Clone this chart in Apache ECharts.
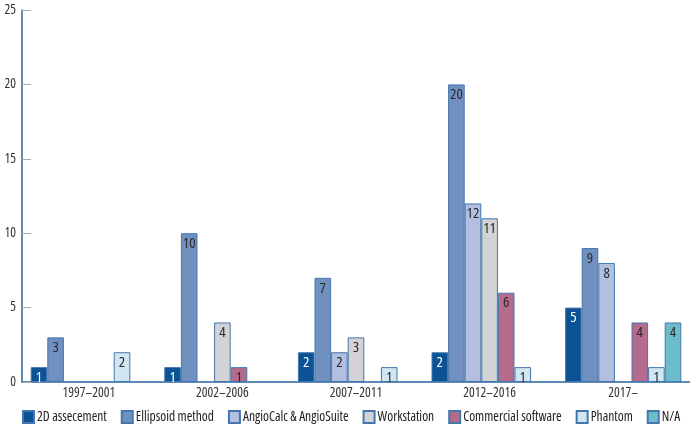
<!DOCTYPE html>
<html><head><meta charset="utf-8">
<script src="https://cdn.jsdelivr.net/npm/echarts@6/dist/echarts.min.js"></script>
<style>html,body{margin:0;padding:0;background:#fff}#c{width:690px;height:425px}</style>
</head><body><div id="c"></div>
<script>
const categories = ['1997–2001','2002–2006','2007–2011','2012–2016','2017–'];
const seriesNames = ['2D assecement','Ellipsoid method','AngioCalc & AngioSuite','Workstation','Commercial software','Phantom','N/A'];
const s2D = [1,1,2,2,5];
const sEllipsoid = [3,10,7,20,9];
const sAngio = [null,null,2,12,8];
const sWorkstation = [null,4,3,11,null];
const sCommercial = [null,1,null,6,4];
const sPhantom = [2,null,1,1,1];
const sNA = [null,null,null,null,4];
const yTicks = [0,5,10,15,20,25];

const values = [s2D,sEllipsoid,sAngio,sWorkstation,sCommercial,sPhantom,sNA];
const colors = ['#0b5394','#7090c0','#b2bfe0','#d3d3d6','#b56b8c','#d0e6f0','#6cbccb'];
const labelColors = ['#ffffff','#2a2a2a','#2a2a2a','#2a2a2a','#2a2a2a','#2a2a2a','#2a2a2a'];
const FONT = '"Open Sans",sans-serif';
const TXT = {fontFamily:FONT,fontStyle:'normal',fontWeight:'condensed'};

const chart = echarts.init(document.getElementById('c'), null, {renderer:'canvas'});
chart.setOption({
  animation:false,
  grid:{left:22,right:0,top:10,bottom:43,containLabel:false},
  legend:{
    top:410,left:22,width:900,padding:0,itemGap:14,itemWidth:11,itemHeight:12,
    icon:'rect',
    textStyle:Object.assign({fontSize:13.5,color:'#222',padding:[0,0,0,-2]},TXT),
    data:seriesNames
  },
  xAxis:{
    type:'category',data:categories,
    axisLine:{lineStyle:{color:'#2a64a0',width:1.5}},
    axisTick:{show:false},
    axisLabel:Object.assign({fontSize:13.5,color:'#333',margin:4},TXT)
  },
  yAxis:{
    type:'value',min:0,max:yTicks[yTicks.length-1],interval:5,
    axisLine:{show:true,lineStyle:{color:'#2a64a0',width:1.5}},
    axisTick:{show:true,inside:true,length:9,lineStyle:{color:'#aaa'}},
    splitLine:{show:false},
    axisLabel:Object.assign({fontSize:13.5,color:'#333',margin:6},TXT)
  },
  series: seriesNames.map((n,i)=>({
    name:n,type:'bar',data:values[i],
    barWidth:16.6,barGap:'0%',
    itemStyle:{color:colors[i],borderColor:'#4577ad',borderWidth:1},
    label:Object.assign({show:true,position:'insideTop',distance:3,color:labelColors[i],fontSize:15},TXT)
  }))
});
</script></body></html>
